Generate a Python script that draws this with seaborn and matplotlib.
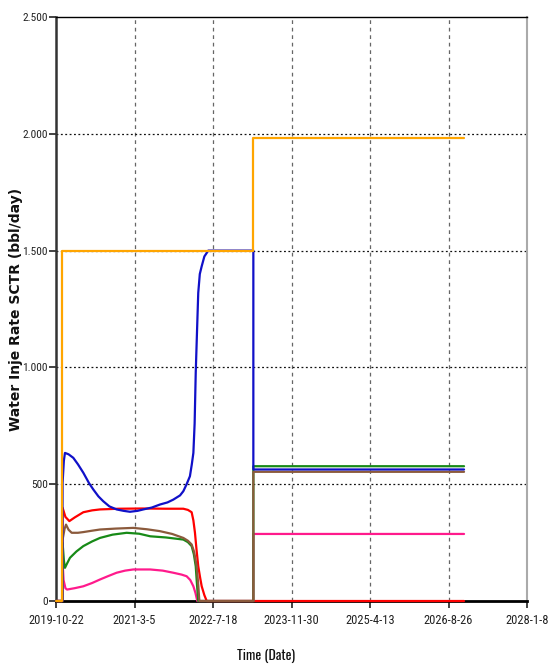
import matplotlib
matplotlib.use("Agg")
import matplotlib.pyplot as plt
import seaborn as sns
import pandas as pd
from matplotlib.ticker import FixedLocator, FuncFormatter
from matplotlib import font_manager

# ---------------- data (x = days since 2019-10-22) ----------------
x_tick_labels = ["2019-10-22", "2021-3-5", "2022-7-18", "2023-11-30",
                 "2025-4-13", "2026-8-26", "2028-1-8"]
y_ticks = [0, 500, 1000, 1500, 2000, 2500]

orange_days = [0, 36, 36, 1257, 1257, 2599]
orange_vals = [0, 0, 1500, 1500, 1980, 1980]

blue_days = [0, 40, 42, 50, 57, 80, 110, 140, 174, 210, 238, 270, 301, 340, 386,
             430, 471, 520, 556, 610, 662, 710, 747, 790, 811, 832, 853, 865,
             875, 883, 890, 898, 906, 916, 928, 945, 970, 1257, 1257, 2599]
blue_vals = [0, 0, 506, 600, 634, 628, 613, 585, 549, 505, 477, 448, 427, 405, 392,
             386, 382, 386, 392, 400, 413, 422, 434, 452, 470, 500, 534, 585,
             634, 760, 977, 1150, 1319, 1400, 1433, 1475, 1500, 1500, 563, 563]

red_days = [0, 40, 42, 60, 85, 120, 174, 230, 280, 400, 550, 700, 811, 840, 864,
            875, 885, 895, 906, 918, 928, 945, 960, 1257, 2599]
red_vals = [0, 0, 399, 360, 342, 358, 380, 388, 392, 395, 396, 395, 395, 390, 380,
            345, 293, 220, 149, 100, 63, 25, 0, 0, 0]

brown_days = [0, 40, 42, 55, 64, 80, 100, 140, 174, 230, 280, 380, 492, 580, 662,
              740, 811, 840, 864, 880, 896, 906, 913, 1257, 1257, 2599]
brown_vals = [0, 0, 263, 310, 327, 305, 292, 292, 295, 301, 306, 310, 313, 307, 299,
              287, 270, 258, 242, 210, 149, 70, 0, 0, 553, 553]

green_days = [0, 40, 42, 50, 57, 70, 89, 130, 174, 230, 280, 360, 450, 530, 600,
              700, 811, 840, 864, 878, 890, 898, 906, 1257, 1257, 2599]
green_vals = [0, 0, 249, 175, 142, 160, 185, 212, 235, 255, 270, 284, 292, 288, 277,
              272, 263, 252, 235, 200, 149, 70, 0, 0, 577, 577]

pink_days = [0, 40, 42, 48, 60, 70, 120, 174, 230, 280, 330, 386, 440, 492, 600,
             680, 747, 800, 832, 855, 875, 888, 900, 1257, 1257, 2599]
pink_vals = [0, 0, 170, 90, 55, 49, 55, 63, 77, 92, 106, 121, 130, 135, 135,
             130, 121, 113, 106, 90, 63, 35, 0, 0, 287, 287]

# ---------------- style ----------------
sns.set_theme(style="white")
fams = {f.name for f in font_manager.fontManager.ttflist}
narrow = next((f for f in ["Roboto Condensed", "Barlow Condensed", "Archivo Narrow",
                           "PT Sans Narrow"] if f in fams), "Liberation Sans")
tall = "Oswald" if "Oswald" in fams else narrow
plt.rcParams["font.family"] = ["Liberation Sans", "DejaVu Sans"]

fig = plt.figure(figsize=(5.51, 6.67), dpi=100)
ax = fig.add_axes([56 / 551, 66 / 667, 471 / 551, 584 / 667])

series = [
    ("red", red_days, red_vals, "#ff0000"),
    ("pink", pink_days, pink_vals, "#ff1a8c"),
    ("green", green_days, green_vals, "#178a17"),
    ("brown", brown_days, brown_vals, "#8b5a3c"),
    ("blue", blue_days, blue_vals, "#1010c8"),
    ("orange", orange_days, orange_vals, "#ffa500"),
]
for name, d, v, c in series:
    df = pd.DataFrame({"day": d, "value": v})
    sns.lineplot(data=df, x="day", y="value", ax=ax, color=c, lw=1.6,
                 estimator=None, sort=False, zorder=4, clip_on=False)

# ---------------- axes ----------------
start = pd.Timestamp("2019-10-22")
x_ticks = [(pd.Timestamp(pd.to_datetime(s)) - start).days for s in x_tick_labels]
ax.set_xlim(x_ticks[0], x_ticks[-1])
ax.set_ylim(0, 2500)
ax.xaxis.set_major_locator(FixedLocator(x_ticks))
ax.set_xticklabels(x_tick_labels)
ax.yaxis.set_major_locator(FixedLocator(y_ticks))
ax.yaxis.set_major_formatter(FuncFormatter(lambda v, p: f"{int(v):,}".replace(",", ".")))

for lab in ax.get_xticklabels() + ax.get_yticklabels():
    lab.set_fontfamily([narrow, "DejaVu Sans"])
    lab.set_fontsize(10)
    lab.set_color("#222222")

ax.tick_params(axis="x", which="major", direction="out", length=5, width=1.2,
               color="#222222", pad=4, bottom=True)
ax.tick_params(axis="y", which="major", direction="out", length=5, width=1.2,
               color="#222222", pad=1, left=True)

# grid lines
for d in x_ticks[1:-1]:
    ax.axvline(d, color="#666666", lw=0.9, ls=(0, (3, 3)), zorder=1)
for v in y_ticks[1:-1]:
    ax.axhline(v, color="#111111", lw=0.9, ls=(0, (1.5, 2)), zorder=1)

ax.spines["left"].set_color("#333333")
ax.spines["left"].set_linewidth(1.8)
ax.spines["bottom"].set_color("#000000")
ax.spines["bottom"].set_linewidth(2.0)
ax.spines["top"].set_color("#000000")
ax.spines["top"].set_linewidth(1.0)
ax.spines["right"].set_color("#aaaaaa")
ax.spines["right"].set_linewidth(1.5)
for s in ax.spines.values():
    s.set_zorder(3)

ax.set_xlabel("Time (Date)", fontsize=11, fontweight="bold",
              family=[tall, "DejaVu Sans"], color="#111111")
ax.xaxis.set_label_coords((266 - 56) / 471, -(656 - 601) / 584)
ax.xaxis.label.set_verticalalignment("center")

ax.set_ylabel("Water Inje Rate SCTR (bbl/day)", fontsize=10, fontweight="bold",
              family=["DejaVu Sans"], color="#111111")
ax.yaxis.set_label_coords((16 - 56) / 471, 0.5)
ax.yaxis.label.set_verticalalignment("center")
ax.yaxis.label.set_horizontalalignment("center")

# ---- fit text sizes to the reference's measured extents (pixels) ----
fig.canvas.draw()
rend = fig.canvas.get_renderer()

def fitted(text, target, use_height=False):
    bb = text.get_window_extent(rend)
    cur = bb.height if use_height else bb.width
    return text.get_fontsize() * target / cur if cur > 0 else text.get_fontsize()

xs = fitted(ax.get_xticklabels()[0], 55)
ys = fitted(ax.get_yticklabels()[4], 25)
for lab in ax.get_xticklabels():
    lab.set_fontsize(xs)
for lab in ax.get_yticklabels():
    lab.set_fontsize(ys)
ax.xaxis.label.set_fontsize(max(fitted(ax.xaxis.label, 58), 8.5))

fig.savefig("out.png", dpi=100)
